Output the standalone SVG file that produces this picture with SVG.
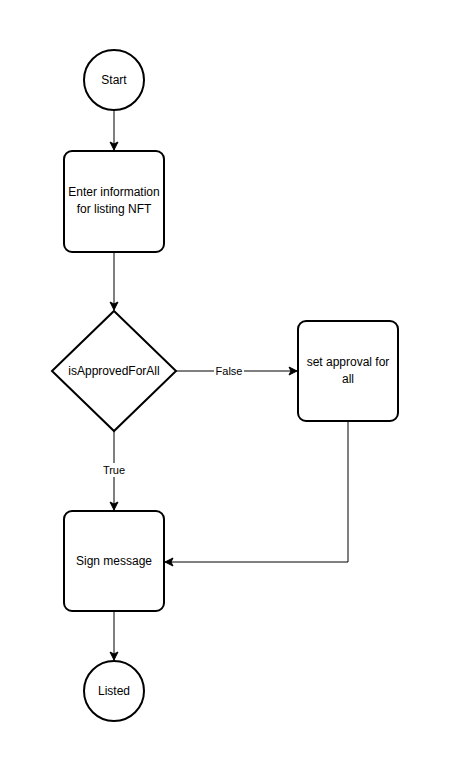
<svg xmlns="http://www.w3.org/2000/svg" width="450" height="772" viewBox="0 0 450 772">
<style>
.node{fill:#fff;stroke:#000;stroke-width:2}
.edge{fill:none;stroke:#000;stroke-width:1}
text{font-family:"Liberation Sans",Arial,sans-serif;font-size:12px;fill:#000;text-anchor:middle}
.lbl{font-size:11px}
</style>
<defs>
<marker id="arr" markerWidth="10" markerHeight="10" viewBox="0 0 10 10" refX="9" refY="5" orient="auto" markerUnits="userSpaceOnUse">
<path d="M1,1 L9,5 L1,9 L3,5 Z" fill="#000" stroke="#000" stroke-width="1"/>
</marker>
</defs>
<rect width="450" height="772" fill="#fff"/>
<g id="connectors">
<path class="edge" d="M114,110 V150" marker-end="url(#arr)"/>
<path class="edge" d="M114,252 V310" marker-end="url(#arr)"/>
<path class="edge" d="M176,371 H297" marker-end="url(#arr)"/>
<path class="edge" d="M114,431 V510" marker-end="url(#arr)"/>
<path class="edge" d="M348,421 V562 H165" marker-end="url(#arr)"/>
<path class="edge" d="M114,612 V660" marker-end="url(#arr)"/>
<rect x="214" y="364" width="30" height="14" fill="#fff"/>
<text class="lbl" x="229" y="375">False</text>
<rect x="100" y="463" width="28" height="14" fill="#fff"/>
<text class="lbl" x="114" y="474">True</text>
</g>
<g id="start">
<circle class="node" cx="114" cy="80" r="30"/>
<text x="114" y="84">Start</text>
</g>
<g id="enter-info">
<rect class="node" x="64" y="151" width="100" height="101" rx="8"/>
<text x="114" y="196">Enter information</text>
<text x="114" y="213">for listing NFT</text>
</g>
<g id="is-approved">
<path class="node" d="M114,311 L176,371 L114,431 L52,371 Z"/>
<text x="114" y="375">isApprovedForAll</text>
</g>
<g id="set-approval">
<rect class="node" x="298" y="321" width="100" height="100" rx="8"/>
<text x="348" y="366">set approval for</text>
<text x="348" y="383">all</text>
</g>
<g id="sign-message">
<rect class="node" x="64" y="511" width="100" height="100" rx="8"/>
<text x="114" y="565">Sign message</text>
</g>
<g id="listed">
<circle class="node" cx="114" cy="691" r="30"/>
<text x="114" y="695">Listed</text>
</g>
</svg>
